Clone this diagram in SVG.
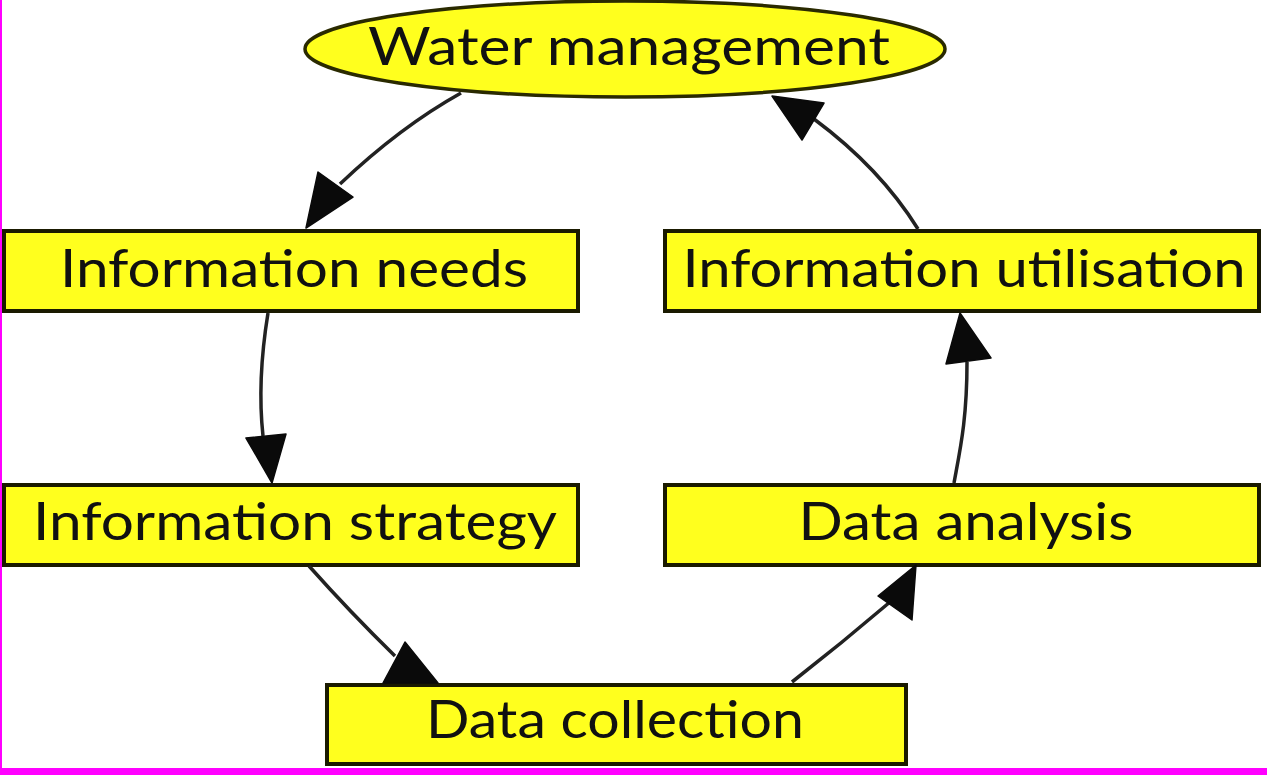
<svg xmlns="http://www.w3.org/2000/svg" width="1267" height="775" viewBox="0 0 1267 775">
<style>
.node{fill:#ffff1e;stroke:#1a1a00;stroke-width:4}
.ell{fill:#ffff1e;stroke:#2a2a00;stroke-width:3.5}
.lbl{font-family:Lato,"Open Sans","Liberation Sans",sans-serif;font-size:52px;fill:#111;text-anchor:middle}
.edge{fill:none;stroke:#222;stroke-width:3.5}
.head{fill:#0a0a0a;stroke:#0a0a0a;stroke-width:1.5;stroke-linejoin:round}
</style>
<rect x="0" y="0" width="1267" height="775" fill="#ffffff"/>
<rect x="0" y="0" width="2" height="775" fill="#ff00ff"/>
<rect x="0" y="768" width="1267" height="7" fill="#ff00ff"/>

<g id="node-water-management">
<ellipse class="ell" cx="625" cy="49" rx="320" ry="48"/>
<text class="lbl" x="629" y="65" textLength="522" lengthAdjust="spacingAndGlyphs">Water management</text>
</g>
<g id="node-information-needs">
<rect class="node" x="4" y="231" width="574" height="80"/>
<text class="lbl" x="294" y="287" textLength="468" lengthAdjust="spacingAndGlyphs">Information needs</text>
</g>
<g id="node-information-utilisation">
<rect class="node" x="665" y="231" width="594" height="80"/>
<text class="lbl" x="964" y="287" textLength="563" lengthAdjust="spacingAndGlyphs">Information utilisation</text>
</g>
<g id="node-information-strategy">
<rect class="node" x="4" y="485" width="574" height="80"/>
<text class="lbl" x="295" y="540" textLength="524" lengthAdjust="spacingAndGlyphs">Information strategy</text>
</g>
<g id="node-data-analysis">
<rect class="node" x="665" y="485" width="594" height="80"/>
<text class="lbl" x="966" y="540" textLength="335" lengthAdjust="spacingAndGlyphs">Data analysis</text>
</g>
<g id="node-data-collection">
<rect class="node" x="327" y="685" width="579" height="79"/>
<text class="lbl" x="615" y="738" textLength="378" lengthAdjust="spacingAndGlyphs">Data collection</text>
</g>

<g id="connectors">
<path class="edge" d="M461,93 Q400,127 340,184"/>
<polygon class="head" points="318,172 353,197 306,228"/>
<path class="edge" d="M268,313 C262,350 258,390 263,436"/>
<polygon class="head" points="246,438 286,434 272,483"/>
<path class="edge" d="M309,566 Q350,612 395,656"/>
<polygon class="head" points="405,642 383,683 438,683"/>
<path class="edge" d="M792,682 Q842,643 890,602"/>
<polygon class="head" points="878,596 912,620 916,565"/>
<path class="edge" d="M954,483 C960,450 967,420 967,362"/>
<polygon class="head" points="946,364 991,358 960,313"/>
<path class="edge" d="M918,229 Q880,168 814,119"/>
<polygon class="head" points="772,96 824,103 802,140"/>
</g>
</svg>
